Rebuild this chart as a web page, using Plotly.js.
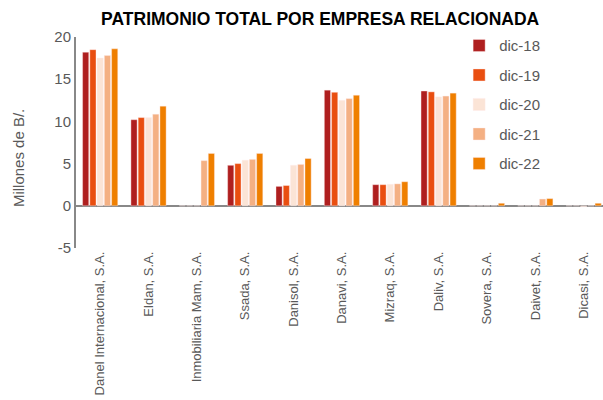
<!DOCTYPE html>
<html>
<head>
<meta charset="utf-8">
<script src="https://cdn.plot.ly/plotly-3.0.1.min.js"></script>
<style>body{margin:0;background:#fff}</style>
</head>
<body>
<div id="chart" style="width:603px;height:400px"></div>
<script>
var empresas = ["Danel Internacional, S.A.", "Eldan, S.A.", "Inmobiliaria Mam, S.A.", "Ssada, S.A.",
    "Danisol, S.A.", "Danavi, S.A.", "Mizraq, S.A.", "Daliv, S.A.", "Sovera, S.A.", "Daivet, S.A.", "Dicasi, S.A."];

var dic18 = [18.2, 10.2, 0, 4.8, 2.3, 13.7, 2.5, 13.6, 0, 0, 0];
var dic19 = [18.5, 10.45, 0, 5.0, 2.4, 13.45, 2.5, 13.5, 0, 0, 0];
var dic20 = [17.5, 10.45, 0, 5.4, 4.8, 12.5, 2.55, 12.9, 0, 0, -0.1];
var dic21 = [17.8, 10.85, 5.35, 5.5, 4.9, 12.7, 2.6, 13.0, 0, 0.8, 0];
var dic22 = [18.6, 11.8, 6.2, 6.2, 5.6, 13.1, 2.85, 13.35, 0.3, 0.85, 0.3];

var yTicks = [-5, 0, 5, 10, 15, 20];
var yTickText = ["-5", "0", "5", "10", "15", "20"];

var series = [
    {name: "dic-18", y: dic18, color: "#AF1F1F"},
    {name: "dic-19", y: dic19, color: "#E94E10"},
    {name: "dic-20", y: dic20, color: "#FBE4D6"},
    {name: "dic-21", y: dic21, color: "#F4B083"},
    {name: "dic-22", y: dic22, color: "#EF7F00"}
];

var data = series.map(function(s, i){
    return {
        type: "bar",
        name: s.name,
        x: empresas,
        y: s.y,
        legendgroup: "g" + i,
        marker: {color: s.color, line: {color: "rgba(255,235,235,0.8)", width: 0.5}}
    };
});

var layout = {
    title: {
        text: "PATRIMONIO TOTAL POR EMPRESA RELACIONADA",
        font: {family: "Liberation Sans, Arial", size: 17.5, color: "#000", weight: "bold"},
        x: 0.531, xanchor: "center", y: 0.952, yanchor: "middle"
    },
    font: {family: "Liberation Sans, Arial", color: "#595959"},
    barmode: "group",
    bargap: 0.25,
    bargroupgap: 0.15,
    showlegend: true,
    legend: {
        x: 0.727, y: 1.037, xanchor: "left", yanchor: "top",
        font: {size: 15, color: "#595959"},
        traceorder: "grouped",
        tracegroupgap: 7,
        bgcolor: "rgba(0,0,0,0)"
    },
    margin: {l: 76, r: 0, t: 37, b: 152},
    plot_bgcolor: "#fff",
    paper_bgcolor: "#fff",
    xaxis: {
        range: [-0.5, 10.4],
        tickangle: -90,
        tickfont: {size: 13, color: "#595959"},
        showline: false,
        showgrid: false,
        ticks: ""
    },
    yaxis: {
        range: [-5, 20],
        tickvals: yTicks,
        ticktext: yTickText,
        tickfont: {size: 15, color: "#595959"},
        showgrid: false,
        showline: true,
        linecolor: "#888",
        linewidth: 2,
        zeroline: true,
        zerolinecolor: "#888",
        zerolinewidth: 2,
        ticks: ""
    },
    annotations: [{
        text: "Millones de B/.",
        textangle: -90,
        xref: "paper", yref: "y",
        x: -0.109, y: 5.6,
        xanchor: "center", yanchor: "middle",
        showarrow: false,
        font: {size: 15, color: "#595959"}
    }]
};

Plotly.newPlot("chart", data, layout, {displayModeBar: false, staticPlot: true});
</script>
</body>
</html>
